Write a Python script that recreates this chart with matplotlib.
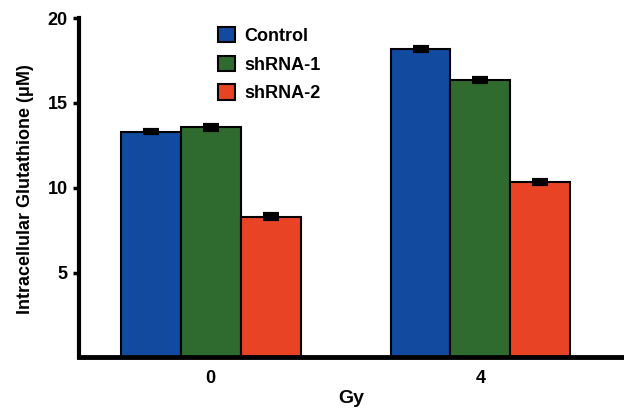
import matplotlib
matplotlib.use("Agg")
from matplotlib import pyplot as plt
import numpy as np

plt.rcParams['font.family'] = ['Liberation Sans', 'DejaVu Sans']

grupos = ['0', '4']
series = ['Control', 'shRNA-1', 'shRNA-2']
control = [13.3, 18.15]
shrna1 = [13.55, 16.35]
shrna2 = [8.3, 10.35]
err_control = [0.1, 0.12]
err_shrna1 = [0.15, 0.1]
err_shrna2 = [0.15, 0.12]
colores = ['#114A9E', '#2F6A2F', '#E84325']

valores = [control, shrna1, shrna2]
errores = [err_control, err_shrna1, err_shrna2]

fig = plt.figure(figsize=(6.24, 4.13), dpi=100)
ax = fig.add_axes([0.1266, 0.1344, 0.8734, 0.822])

x = np.arange(len(grupos))
ancho = 0.222
for i in range(3):
    pos = x + (i - 1) * ancho
    ax.bar(pos, valores[i], ancho, color=colores[i], edgecolor='black',
           linewidth=1.5, label=series[i], zorder=2)
    ax.errorbar(pos, valores[i], yerr=errores[i], fmt='none', ecolor='black',
                elinewidth=3, capsize=6, capthick=3, zorder=3)

ax.set_xlim(-0.489, 1.533)
ax.set_ylim(0, 20)
ax.set_yticks([5, 10, 15, 20])
ax.set_xticks(x)
ax.set_xticklabels(grupos)
ax.tick_params(axis='y', direction='out', length=4, width=2.5, labelsize=13, pad=4)
ax.tick_params(axis='x', length=0, labelsize=13, pad=9)
for lab in ax.get_xticklabels() + ax.get_yticklabels():
    lab.set_fontweight('bold')

ax.spines['top'].set_visible(False)
ax.spines['right'].set_visible(False)
ax.spines['left'].set_linewidth(3)
ax.spines['bottom'].set_linewidth(3.5)

ax.set_ylabel('Intracellular Glutathione (\u03bcM)', fontsize=13, fontweight='bold')
ax.yaxis.set_label_coords(-0.082, 0.497)
ax.set_xlabel('Gy', fontsize=14, fontweight='bold', labelpad=2)

ax.legend(loc='upper left', bbox_to_anchor=(0.255, 0.974), frameon=False,
          borderpad=0, borderaxespad=0, handlelength=0.95, handleheight=0.95,
          labelspacing=0.6, handletextpad=0.5, prop={'weight': 'bold', 'size': 13})

fig.savefig('out.png', dpi=100)
